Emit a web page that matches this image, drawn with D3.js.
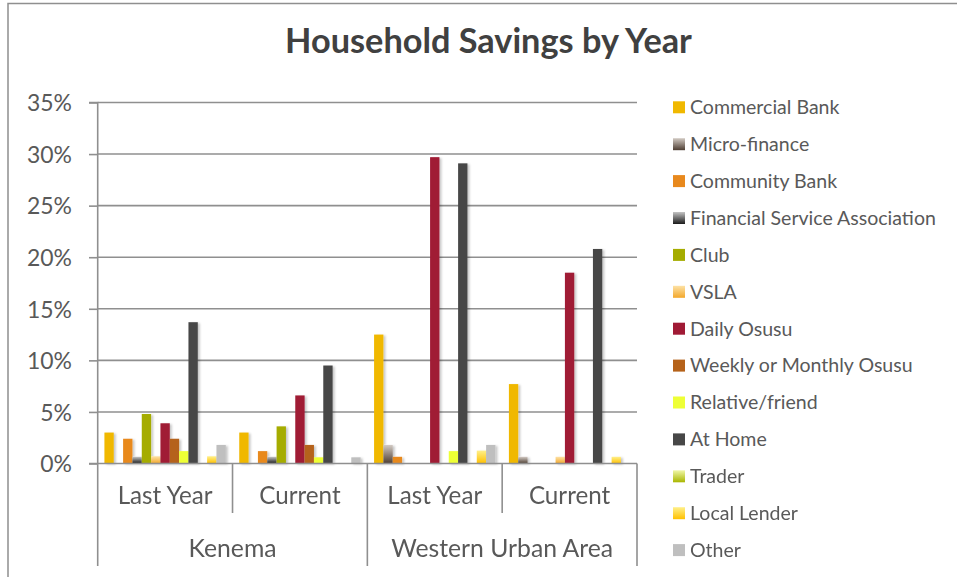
<!DOCTYPE html>
<html>
<head>
<meta charset="utf-8">
<script src="https://cdn.jsdelivr.net/npm/d3@7/dist/d3.min.js"></script>
<style>
  html, body { margin: 0; padding: 0; background: #fff; }
  svg { display: block; }
  text { font-family: Lato, "Open Sans", "DejaVu Sans", sans-serif; }
</style>
</head>
<body>
<svg id="chart" width="957" height="577"></svg>
<script>
// ---------------- DATA ----------------
const title = "Household Savings by Year";
const regions = ["Kenema", "Western Urban Area"];
const periods = ["Last Year", "Current"];
const seriesNames = [
  "Commercial Bank", "Micro-finance", "Community Bank", "Financial Service Association",
  "Club", "VSLA", "Daily Osusu", "Weekly or Monthly Osusu", "Relative/friend",
  "At Home", "Trader", "Local Lender", "Other"
];
// values in percent, one entry per series (same order as seriesNames)
const kenemaLastYear = [3.0, 0, 2.4, 0.65, 4.8, 0.7, 3.9, 2.4, 1.2, 13.7, 0, 0.7, 1.8];
const kenemaCurrent  = [3.0, 0, 1.2, 0.65, 3.6, 0, 6.6, 1.8, 0.6, 9.5, 0, 0, 0.6];
const wuaLastYear    = [12.5, 1.8, 0.65, 0, 0, 0, 29.7, 0, 1.2, 29.1, 0, 1.25, 1.8];
const wuaCurrent     = [7.7, 0.65, 0, 0, 0, 0.65, 18.5, 0, 0, 20.8, 0, 0.65, 0];
const yTicks = [0, 0.05, 0.10, 0.15, 0.20, 0.25, 0.30, 0.35];

// ---------------- STYLE ----------------
const solid = {
  "Commercial Bank": "#F0B800",
  "Community Bank": "#E8891D",
  "Club": "#A5AC00",
  "Daily Osusu": "#A01A35",
  "Weekly or Monthly Osusu": "#B5621A",
  "Relative/friend": "#EEFF36",
  "At Home": "#474747",
  "Other": "#BFBFBF"
};
const grads = {
  "Micro-finance": ["#d2cac3", "#4d3d32"],
  "Financial Service Association": ["#c4c4c4", "#1a1a1a"],
  "VSLA": ["#fde2a6", "#f3a72a"],
  "Trader": ["#f0f7a8", "#a9b600"],
  "Local Lender": ["#fff08a", "#ffc000"]
};

// ---------------- BUILD ----------------
const groups = [];
const groupValues = [kenemaLastYear, kenemaCurrent, wuaLastYear, wuaCurrent];
regions.forEach((r, ri) => periods.forEach((p, pi) => {
  groups.push({ id: r + "|" + p, region: r, period: p, values: groupValues[ri * 2 + pi] });
}));

const svg = d3.select("#chart");
const defs = svg.append("defs");
const gradId = n => "g" + seriesNames.indexOf(n);
Object.entries(grads).forEach(([name, [c0, c1]]) => {
  const lg = defs.append("linearGradient").attr("id", gradId(name))
    .attr("x1", 0).attr("y1", 0).attr("x2", 0).attr("y2", 1);
  lg.append("stop").attr("offset", "0%").attr("stop-color", c0);
  lg.append("stop").attr("offset", "100%").attr("stop-color", c1);
});
const f = defs.append("filter").attr("id", "shadow")
  .attr("x", "-50%").attr("y", "-10%").attr("width", "200%").attr("height", "120%");
f.append("feDropShadow").attr("dx", 2).attr("dy", 1).attr("stdDeviation", 1.2)
  .attr("flood-color", "#000").attr("flood-opacity", 0.22);
const fillOf = n => solid[n] || `url(#${gradId(n)})`;

const textColor = "#595959";
const lineColor = "#8f8f8f";

function fitFactor(str, size, weight, target) {
  const t = svg.append("text").attr("font-size", size).attr("font-weight", weight).text(str);
  const w = t.node().getComputedTextLength();
  t.remove();
  return size * target / w;
}

// chart outer border
svg.append("path").attr("d", "M8,577 L8,3.5 L957,3.5")
  .attr("fill", "none").attr("stroke", lineColor).attr("stroke-width", 1.5);

// title
const titleSize = fitFactor(title, 28, "bold", 407);
svg.append("text").attr("x", 488.5).attr("y", 53).attr("text-anchor", "middle")
  .attr("font-size", titleSize).attr("font-weight", "bold").attr("fill", "#404040")
  .text(title);

// scales
const plotL = 97.7, plotR = 637, y0 = 463.5, y35 = 102.5;
const y = d3.scaleLinear().domain([0, 0.35]).range([y0, y35]);
const x0 = d3.scaleBand().domain(groups.map(g => g.id)).range([plotL, plotR]).padding(0);
const x1 = d3.scaleBand().domain(seriesNames).range([0, x0.bandwidth()])
  .paddingInner(0).paddingOuter(0.72);

// gridlines
svg.append("g").selectAll("line").data(yTicks.filter(t => t > 0)).join("line")
  .attr("x1", plotL).attr("x2", plotR).attr("y1", d => y(d)).attr("y2", d => y(d))
  .attr("stroke", lineColor).attr("stroke-width", 1.6);

// y axis
const tickSize = fitFactor("35%", 24, "normal", 45);
const yAxis = d3.axisLeft(y).tickValues(yTicks).tickFormat(d3.format(".0%"))
  .tickSize(8.7).tickPadding(17);
const ya = svg.append("g").attr("transform", `translate(${plotL},0)`).call(yAxis);
ya.select(".domain").attr("stroke", lineColor).attr("stroke-width", 1.6)
  .attr("d", `M-8.7,${y35}H0V${y0}`);
ya.selectAll(".tick line").attr("stroke", lineColor).attr("stroke-width", 1.6);
ya.selectAll(".tick text").attr("font-size", tickSize).attr("fill", textColor)
  .attr("font-family", "Lato, 'Open Sans', sans-serif").attr("dy", "0.36em");

// bars
const bars = svg.append("g").attr("filter", "url(#shadow)");
groups.forEach(g => {
  const gg = bars.append("g").attr("transform", `translate(${x0(g.id)},0)`);
  gg.selectAll("rect").data(seriesNames.map((n, i) => ({ n, v: g.values[i] / 100 })).filter(d => d.v > 0))
    .join("rect")
    .attr("x", d => x1(d.n)).attr("width", x1.bandwidth())
    .attr("y", d => y(d.v)).attr("height", d => y0 - y(d.v))
    .attr("fill", d => fillOf(d.n));
});

// x axis baseline
svg.append("line").attr("x1", plotL - 8.7).attr("x2", plotR).attr("y1", y0).attr("y2", y0)
  .attr("stroke", lineColor).attr("stroke-width", 1.6);

// category separators
const bounds = groups.map(g => x0(g.id)).concat([plotR]);
svg.append("g").selectAll("line").data(bounds).join("line")
  .attr("x1", d => d).attr("x2", d => d).attr("y1", y0)
  .attr("y2", (d, i) => (i % 2 === 0 ? 566 : 513))
  .attr("stroke", lineColor).attr("stroke-width", 1.6);

// period labels
const catSize = fitFactor("Last Year", 22, "normal", 95);
svg.append("g").selectAll("text").data(groups).join("text")
  .attr("x", d => x0(d.id) + x0.bandwidth() / 2).attr("y", 504)
  .attr("text-anchor", "middle").attr("font-size", catSize).attr("fill", textColor)
  .text(d => d.period);

// region labels
const regSize = fitFactor("Western Urban Area", 22, "normal", 222);
svg.append("g").selectAll("text").data(regions).join("text")
  .attr("x", (d, i) => (x0(groups[i * 2].id) + x0(groups[i * 2 + 1].id) + x0.bandwidth()) / 2)
  .attr("y", 556.5).attr("text-anchor", "middle").attr("font-size", regSize).attr("fill", textColor)
  .text(d => d);

// legend
const legSize = fitFactor("Financial Service Association", 18, "normal", 246);
const leg = svg.append("g").selectAll("g").data(seriesNames).join("g")
  .attr("transform", (d, i) => `translate(673,${107.3 + i * 36.9})`);
leg.append("rect").attr("x", 0).attr("y", -6).attr("width", 12).attr("height", 12)
  .attr("fill", d => fillOf(d));
leg.append("text").attr("x", 17).attr("y", 0).attr("dy", "0.35em")
  .attr("font-size", legSize).attr("fill", textColor).text(d => d);
</script>
</body>
</html>
